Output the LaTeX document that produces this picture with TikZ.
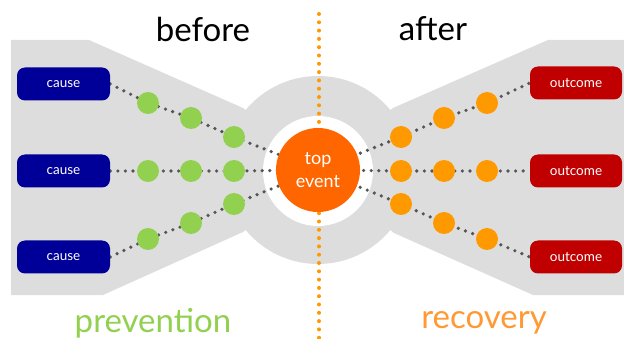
\documentclass[tikz,border=0pt]{standalone}
\usepackage{fontspec}
\setmainfont{Lato}
\definecolor{bggray}{HTML}{DDDDDD}
\definecolor{cblue}{HTML}{000099}
\definecolor{ored}{HTML}{C00000}
\definecolor{bgreen}{HTML}{92D050}
\definecolor{borange}{HTML}{FF9900}
\definecolor{torange}{HTML}{FF6600}
\definecolor{rorange}{HTML}{FF9933}
\definecolor{dotgray}{HTML}{555555}
\pgfdeclarelayer{bglayer}
\pgfdeclarelayer{linelayer}
\pgfsetlayers{bglayer,linelayer,main}
\begin{document}
\begin{tikzpicture}[x=1pt,y=-1pt,
  causebox/.style={fill=cblue,rounded corners=8pt,minimum width=93pt,minimum height=33pt,text=white,font=\fontsize{13.5}{15}\selectfont,inner sep=0pt},
  outbox/.style={fill=ored,rounded corners=8pt,minimum width=92pt,minimum height=33pt,text=white,font=\fontsize{13.5}{15}\selectfont,inner sep=0pt},
  gball/.style={circle,fill=bgreen,minimum size=22pt,inner sep=0pt},
  oball/.style={circle,fill=borange,minimum size=22pt,inner sep=0pt},
  dotline/.style={draw=dotgray,line width=3.6pt,line cap=round,dash pattern=on 0pt off 7.6pt},
  odotline/.style={draw=borange,line width=4pt,line cap=round,dash pattern=on 0pt off 8.3pt},
  title/.style={font=\fontsize{33}{35}\selectfont}
]
\useasboundingbox (0,0) rectangle (624,339);
\begin{pgfonlayer}{bglayer}
\fill[bggray] (11,40) -- (89,40) -- (243,108) -- (318,170) -- (243,232) -- (103,295) -- (11,295) -- cycle;
\fill[bggray] (624,40) -- (548,40) -- (393,108) -- (318,170) -- (394,233) -- (533,295) -- (624,295) -- cycle;
\fill[bggray] (318,170) circle[radius=94];
\fill[white] (318,171) circle[radius=55];
\end{pgfonlayer}
% nodes
\node[causebox] (c1) at (63.5,84) {cause};
\node[causebox] (c2) at (63.5,171) {cause};
\node[causebox] (c3) at (63.5,257) {cause};
\node[outbox] (o1) at (576,83) {outcome};
\node[outbox] (o2) at (576,171) {outcome};
\node[outbox] (o3) at (576,257) {outcome};
\node[gball] (g11) at (148,103) {};
\node[gball] (g12) at (191,118) {};
\node[gball] (g13) at (234,137) {};
\node[gball] (g21) at (148,171) {};
\node[gball] (g22) at (191,171) {};
\node[gball] (g23) at (234,171) {};
\node[gball] (g31) at (148,239) {};
\node[gball] (g32) at (191,223) {};
\node[gball] (g33) at (234,204) {};
\node[oball] (r11) at (401,137) {};
\node[oball] (r12) at (444,118) {};
\node[oball] (r13) at (487,103) {};
\node[oball] (r21) at (401,171) {};
\node[oball] (r22) at (444,171) {};
\node[oball] (r23) at (487,171) {};
\node[oball] (r31) at (401,204) {};
\node[oball] (r32) at (444,223) {};
\node[oball] (r33) at (487,239) {};
\node[circle,fill=torange,minimum size=84pt,inner sep=0pt,text=white,align=center,font=\fontsize{18}{23}\selectfont] (top) at (318,170) {top\\event};
% connectors
\coordinate (dtop) at (319,14);
\coordinate (dbot) at (319,339);
\begin{pgfonlayer}{linelayer}
\draw[odotline] (dtop) -- (dbot);
\draw[dotline] (c1.east) -- (g11.center) -- (g12.center) -- (g13.center) -- (top.center);
\draw[dotline] (c2.east) -- (g21.center) -- (g22.center) -- (g23.center) -- (top.center);
\draw[dotline] (c3.east) -- (g31.center) -- (g32.center) -- (g33.center) -- (top.center);
\draw[dotline] (top.center) -- (r11.center) -- (r12.center) -- (r13.center) -- (o1.west);
\draw[dotline] (top.center) -- (r21.center) -- (r22.center) -- (r23.center) -- (o2.west);
\draw[dotline] (top.center) -- (r31.center) -- (r32.center) -- (r33.center) -- (o3.west);
\end{pgfonlayer}
% titles
\node[title] (before) at (203,29) {before};
\node[title] (after) at (433,29) {after};
\node[title,text=bgreen] (prev) at (153,323) {prevention};
\node[title,text=rorange] (rec) at (484,323) {recovery};
\end{tikzpicture}
\end{document}
